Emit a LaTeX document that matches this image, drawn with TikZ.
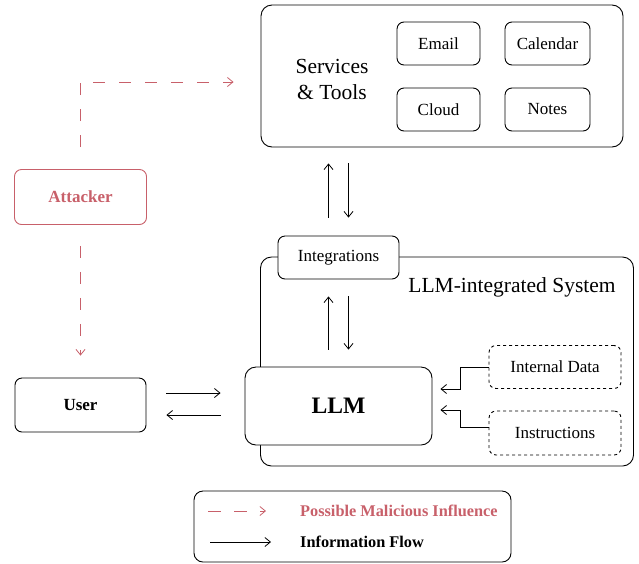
\documentclass[tikz,border=0pt]{standalone}
\usepackage{fontspec}
\setmainfont{Liberation Serif}
\usetikzlibrary{arrows.meta}
\definecolor{attackred}{RGB}{200,96,106}
\begin{document}
\begin{tikzpicture}[x=1pt,y=-1pt,
  box/.style={draw, rounded corners=7pt, line width=0.9pt, inner sep=2pt, font=\fontsize{17}{20}\selectfont},
  bigbox/.style={draw, rounded corners=11pt, line width=0.9pt},
  flow/.style={line width=0.8pt, -{Straight Barb[length=5.5pt,width=9pt]}},
  attack/.style={draw=attackred, line width=0.8pt, dash pattern=on 12pt off 14pt, -{Straight Barb[length=5.5pt,width=9pt]}}]
\useasboundingbox (0,0) rectangle (639,563);
\node[bigbox, minimum width=362pt, minimum height=142pt] (services) at (442,76){};
\node[align=center, font=\fontsize{21.5}{26}\selectfont] (stlabel) at (332,79){Services\\\& Tools};
\node[box, minimum width=83pt, minimum height=43pt] (email) at (438.5,43.5){Email};
\node[box, minimum width=85pt, minimum height=43pt] (calendar) at (547.5,43.5){Calendar};
\node[box, minimum width=83pt, minimum height=43pt] (cloud) at (438.5,109.5){Cloud};
\node[box, minimum width=85pt, minimum height=43pt] (notes) at (547.5,109.5){Notes};
\node[bigbox, minimum width=373pt, minimum height=209pt] (system) at (447,361.5){};
\node[font=\fontsize{21.5}{26}\selectfont] (syslabel) at (512,287){LLM-integrated System};
\node[box, fill=white, minimum width=121pt, minimum height=43pt] (integ) at (338.5,257.5){Integrations};
\node[bigbox, fill=white, minimum width=187pt, minimum height=78pt, font=\fontsize{23.6}{28}\selectfont\bfseries] (llm) at (338.5,406){LLM};
\node[box, dashed, minimum width=132pt, minimum height=43pt] (internal) at (555,367){Internal Data};
\node[box, dashed, minimum width=132pt, minimum height=44pt] (instr) at (555,433){Instructions};
\node[box, minimum width=131pt, minimum height=54pt, font=\fontsize{17}{20}\selectfont\bfseries] (user) at (80.5,405){User};
\node[box, draw=attackred, text=attackred, minimum width=132pt, minimum height=55pt, font=\fontsize{17}{20}\selectfont\bfseries] (attacker) at (80.5,197){Attacker};
\draw[flow, shorten <=18pt, shorten >=16pt] ([xshift=-10pt]integ.north) -- ([xshift=-10pt]integ.north |- services.south);
\draw[flow, shorten <=16pt, shorten >=18pt] ([xshift=10pt]integ.north |- services.south) -- ([xshift=10pt]integ.north);
\draw[flow, shorten <=17pt, shorten >=17pt] ([xshift=-10pt]llm.north) -- ([xshift=-10pt]llm.north |- integ.south);
\draw[flow, shorten <=17pt, shorten >=17pt] ([xshift=10pt]integ.south) -- ([xshift=10pt]integ.south |- llm.north);
\draw[flow, shorten <=20pt, shorten >=24pt] ([yshift=12pt]user.east) -- ([yshift=12pt]user.east -| llm.west);
\draw[flow, shorten <=24pt, shorten >=20pt] ([yshift=-10pt]user.east -| llm.west) -- ([yshift=-10pt]user.east);
\draw[flow, shorten >=8pt] (internal.west) -- ++(-28,0) |- ([yshift=17pt]llm.east);
\draw[flow, shorten >=8pt] ([yshift=6pt]instr.west) -- ++(-28,0) |- ([yshift=-4pt]llm.east);
\draw[attack, shorten <=22pt, shorten >=27pt] (attacker.north) |- ([yshift=-6pt]services.west);
\draw[attack, shorten <=21pt, shorten >=22pt] (attacker.south) -- (user.north);
\node[box, rounded corners=9pt, minimum width=317pt, minimum height=71pt] (legend) at (352.5,526.5){};
\coordinate (m1) at (208,511);
\coordinate (m2) at (266,511);
\coordinate (i1) at (210,542);
\coordinate (i2) at (271,542);
\draw[attack, dash pattern=on 13pt off 13pt] (m1) -- (m2);
\draw[flow] (i1) -- (i2);
\node[anchor=west, inner sep=0pt, text=attackred, font=\fontsize{16.3}{20}\selectfont\bfseries] (mlabel) at (300,511){Possible Malicious Influence};
\node[anchor=west, inner sep=0pt, font=\fontsize{16.3}{20}\selectfont\bfseries] (ilabel) at (300,542){Information Flow};
\end{tikzpicture}
\end{document}
